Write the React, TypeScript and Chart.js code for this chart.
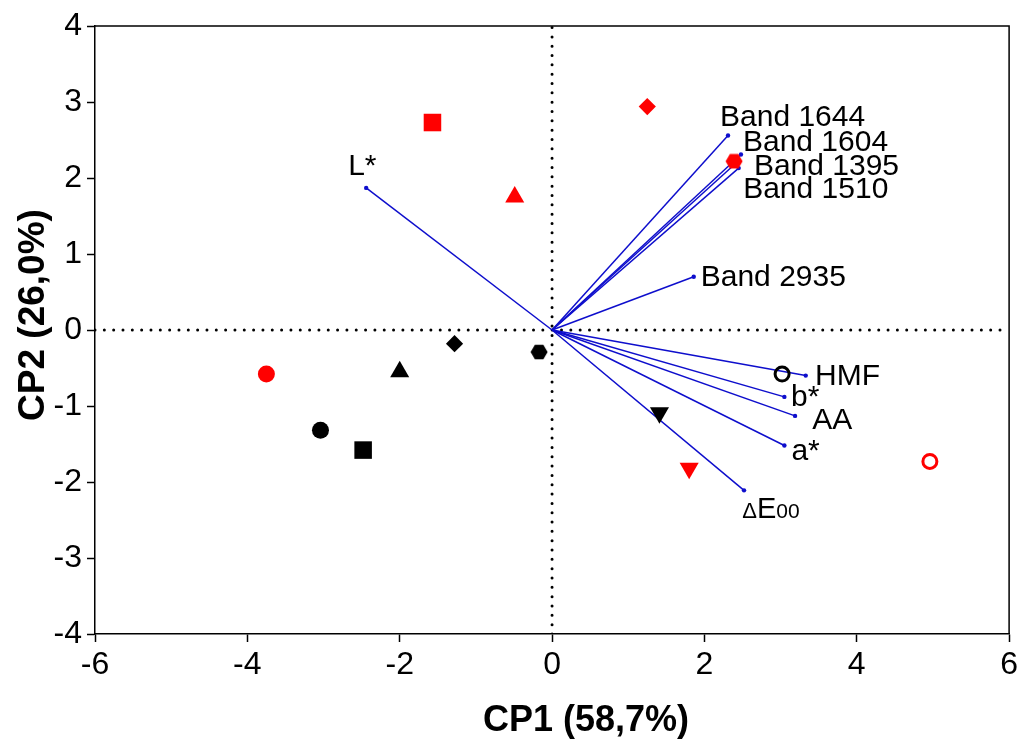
import React, { useEffect, useRef } from 'react';
import { Chart, registerables } from 'chart.js';

Chart.register(...registerables);

// ---- Data ----
const sampleShapes = ['rect', 'triangle', 'rectRot', 'hexagon', 'circle', 'triangleDown', 'circleOpen'];
const redX = [-1.57, -0.49, 1.25, 2.39, -3.75, 1.8, 4.96];
const redY = [2.73, 1.75, 2.94, 2.22, -0.58, -1.82, -1.73];
const blackX = [-2.48, -2.0, -1.28, -0.17, -3.04, 1.41, 3.02];
const blackY = [-1.58, -0.55, -0.18, -0.29, -1.32, -1.09, -0.58];

const variableNames = ['L*', 'Band 1644', 'Band 1604', 'Band 1395', 'Band 1510', 'Band 2935', 'HMF', 'b*', 'AA', 'a*', 'ΔE00'];
const loadingX = [-2.44, 2.31, 2.48, 2.42, 2.45, 1.86, 3.33, 3.05, 3.19, 3.05, 2.52];
const loadingY = [1.87, 2.56, 2.31, 2.2, 2.13, 0.7, -0.6, -0.88, -1.13, -1.52, -2.11];

const xTitle = 'CP1 (58,7%)';
const yTitle = 'CP2 (26,0%)';

// ---- Styles ----
const FONT = "'Liberation Sans', Arial, sans-serif";
const RED = '#FF0000';
const BLACK = '#000000';
const BLUE = '#0E0ECC';

const shapeStyle: Record<string, { style: string; radius: number; rotation: number }> = {
  rect: { style: 'rect', radius: 12.4, rotation: 0 },
  triangle: { style: 'triangle', radius: 11, rotation: 0 },
  rectRot: { style: 'rectRot', radius: 8.6, rotation: 0 },
  hexagon: { style: 'hexagon', radius: 8.5, rotation: 0 },
  circle: { style: 'circle', radius: 8.5, rotation: 0 },
  triangleDown: { style: 'triangle', radius: 11, rotation: 180 },
  circleOpen: { style: 'circle', radius: 7, rotation: 0 },
};

// label placement relative to vector tip, in pixels (left x, baseline y)
const labelDX = [-18, -8, 2, 17.5, 4.5, 7, 9.3, 6.7, 17.3, 7, -1.7];
const labelDY = [-13, -9.3, -3.3, 12, 30, 9.4, 9, 9.4, 13.3, 14.3, 27.6];

function makeHexagon(color: string): HTMLCanvasElement {
  const c = document.createElement('canvas');
  c.width = 18;
  c.height = 16;
  const ctx = c.getContext('2d')!;
  ctx.fillStyle = color;
  ctx.beginPath();
  for (let k = 0; k < 6; k++) {
    const a = (Math.PI / 3) * k;
    const px = 9 + 8.5 * Math.cos(a);
    const py = 8 + 8.5 * Math.sin(a);
    if (k === 0) ctx.moveTo(px, py);
    else ctx.lineTo(px, py);
  }
  ctx.closePath();
  ctx.fill();
  return c;
}

const framePlugin = {
  id: 'frame',
  afterDraw(chart: any) {
    const { ctx, chartArea } = chart;
    ctx.save();
    ctx.strokeStyle = '#000';
    ctx.lineWidth = 1.5;
    ctx.beginPath();
    ctx.moveTo(chartArea.left, chartArea.top);
    ctx.lineTo(chartArea.right, chartArea.top);
    ctx.lineTo(chartArea.right, chartArea.bottom);
    ctx.stroke();

    // axis titles (placed as in the reference: slightly off-centre)
    ctx.fillStyle = '#000';
    ctx.font = `bold 36px ${FONT}`;
    ctx.textAlign = 'center';
    ctx.textBaseline = 'middle';
    const cx = (chartArea.left + chartArea.right) / 2 + 34;
    ctx.fillText(xTitle, cx, chartArea.bottom + 87);
    ctx.save();
    ctx.translate(34, (chartArea.top + chartArea.bottom) / 2 - 15);
    ctx.rotate(-Math.PI / 2);
    ctx.font = `bold 37px ${FONT}`;
    ctx.fillText(yTitle, 0, 0);
    ctx.restore();
    ctx.restore();
  },
};

const labelPlugin = {
  id: 'vectorLabels',
  afterDatasetsDraw(chart: any) {
    const { ctx } = chart;
    const xs = chart.scales.x;
    const ys = chart.scales.y;
    ctx.save();
    ctx.fillStyle = '#000';
    ctx.textAlign = 'left';
    ctx.textBaseline = 'alphabetic';
    variableNames.forEach((name, i) => {
      const px = xs.getPixelForValue(loadingX[i]) + labelDX[i];
      const py = ys.getPixelForValue(loadingY[i]) + labelDY[i];
      if (name.startsWith('Δ')) {
        let cx = px;
        ctx.font = `22px ${FONT}`;
        ctx.fillText('Δ', cx, py);
        cx += ctx.measureText('Δ').width;
        ctx.font = `29px ${FONT}`;
        ctx.fillText('E', cx, py);
        cx += ctx.measureText('E').width;
        ctx.font = `21px ${FONT}`;
        ctx.fillText(name.slice(2), cx, py);
      } else {
        ctx.font = `30px ${FONT}`;
        ctx.fillText(name, px, py);
      }
    });
    ctx.restore();
  },
};

export default function App() {
  const ref = useRef<HTMLCanvasElement | null>(null);

  useEffect(() => {
    if (!ref.current) return;
    const hex: Record<string, HTMLCanvasElement> = { [RED]: makeHexagon(RED), [BLACK]: makeHexagon(BLACK) };

    const groups = [
      { xs: redX, ys: redY, color: RED },
      { xs: blackX, ys: blackY, color: BLACK },
    ];

    const sampleSets = groups.map((g) => ({
      type: 'scatter' as const,
      data: g.xs.map((v, i) => ({ x: v, y: g.ys[i] })),
      pointStyle: sampleShapes.map((s) => (s === 'hexagon' ? hex[g.color] : shapeStyle[s].style)) as any,
      pointRadius: sampleShapes.map((s) => shapeStyle[s].radius),
      pointHoverRadius: sampleShapes.map((s) => shapeStyle[s].radius),
      pointRotation: sampleShapes.map((s) => shapeStyle[s].rotation),
      pointBackgroundColor: sampleShapes.map((s) => (s === 'circleOpen' ? 'rgba(0,0,0,0)' : g.color)),
      pointBorderColor: g.color,
      pointBorderWidth: sampleShapes.map((s) => (s === 'circleOpen' ? 3 : 0)),
      showLine: false,
      order: 0,
    }));

    const vectorSets = variableNames.map((_, i) => ({
      type: 'scatter' as const,
      data: [
        { x: 0, y: 0 },
        { x: loadingX[i], y: loadingY[i] },
      ],
      showLine: true,
      borderColor: BLUE,
      borderWidth: 1.5,
      pointRadius: [0, 2.2],
      pointBackgroundColor: BLUE,
      pointBorderWidth: 0,
      order: 1,
    }));

    const zeroSets = [
      [{ x: -6, y: 0 }, { x: 6, y: 0 }],
      [{ x: 0, y: -4 }, { x: 0, y: 4 }],
    ].map((d) => ({
      type: 'scatter' as const,
      data: d,
      showLine: true,
      borderColor: BLACK,
      borderWidth: 3,
      borderDash: [0, 9.33],
      borderCapStyle: 'round' as const,
      pointRadius: 0,
      order: 2,
    }));

    const chart = new Chart(ref.current, {
      type: 'scatter',
      data: { datasets: [...sampleSets, ...vectorSets, ...zeroSets] as any },
      options: {
        animation: false,
        responsive: false,
        devicePixelRatio: 1,
        layout: { padding: { top: 26, right: 11, left: 0, bottom: 0 } },
        plugins: { legend: { display: false }, tooltip: { enabled: false } },
        events: [],
        scales: {
          x: {
            type: 'linear',
            min: -6,
            max: 6,
            ticks: { stepSize: 2, color: '#000', font: { family: FONT, size: 32 }, padding: 4 },
            grid: { drawOnChartArea: false, drawTicks: true, tickLength: 8, tickColor: '#000', tickWidth: 1.5 },
            border: { display: true, color: '#000', width: 1.5 },
            title: { display: false },
            afterFit: (s: any) => {
              s.height = 117;
            },
          },
          y: {
            type: 'linear',
            min: -4,
            max: 4,
            ticks: { stepSize: 1, color: '#000', font: { family: FONT, size: 32 }, padding: 5 },
            grid: { drawOnChartArea: false, drawTicks: true, tickLength: 8, tickColor: '#000', tickWidth: 1.5 },
            border: { display: true, color: '#000', width: 1.5 },
            title: { display: false },
            afterFit: (s: any) => {
              s.width = 95;
            },
          },
        },
      },
      plugins: [framePlugin, labelPlugin],
    });
    return () => chart.destroy();
  }, []);

  return (
    <div style={{ position: 'absolute', left: 0, top: 0, width: 1022, height: 751, background: '#fff' }}>
      <canvas ref={ref} width={1022} height={751} style={{ width: 1022, height: 751, display: 'block' }} />
    </div>
  );
}
